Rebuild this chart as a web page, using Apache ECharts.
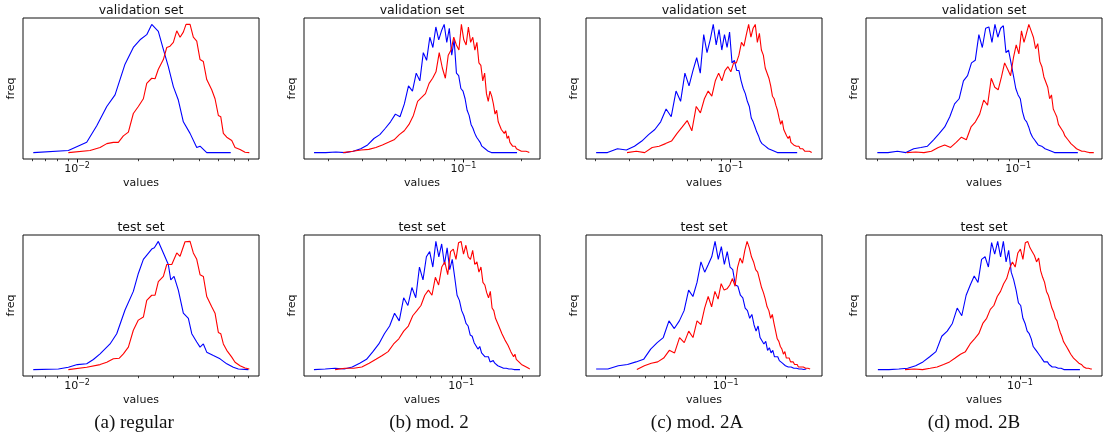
<!DOCTYPE html>
<html><head><meta charset="utf-8">
<script src="https://cdn.jsdelivr.net/npm/echarts@6/dist/echarts.min.js"></script>
<style>html,body{margin:0;padding:0;background:#fff}#c{width:1108px;height:441px}</style>
</head><body><div id="c"></div>
<script>
// ---------------- DATA ----------------
// panel (a) regular : [value, freq] pairs
const aValBlue = [[0.00608,0],[0.00906,1.6],[0.01116,8],[0.01251,21],[0.01402,36],[0.01540,45],[0.01725,69],[0.01896,82],[0.02046,88],[0.02208,92],[0.02337,100],[0.02519,94.5],[0.02667,80.5],[0.02822,67],[0.02988,51.5],[0.03162,41],[0.03347,24],[0.03613,15],[0.03898,4],[0.04047,5],[0.04367,0],[0.05737,0]];
const aValRed = [[0.00906,0],[0.01159,1.6],[0.01299,4],[0.01402,7],[0.01511,8],[0.01599,8],[0.01693,13],[0.01792,16],[0.01896,30.5],[0.02007,36],[0.02125,42],[0.02208,54],[0.02337,58],[0.02427,57.6],[0.02519,65],[0.02667,72.6],[0.02772,82],[0.02877,83],[0.02988,86],[0.03106,95],[0.03225,90],[0.03347,94],[0.03451,100],[0.03613,100],[0.0375,90],[0.03898,87],[0.04047,72.6],[0.04202,71],[0.04367,57],[0.04622,49],[0.04799,42],[0.04983,29],[0.05121,28],[0.05275,15],[0.05483,12],[0.05803,9.5],[0.06025,4],[0.06377,2.4],[0.0675,0.3],[0.07086,0]];
const aTestBlue = [[0.00608,0],[0.00809,0.5],[0.00906,1.8],[0.01003,3.9],[0.01116,4.5],[0.01204,7.9],[0.01299,12.3],[0.01455,20],[0.0157,28],[0.01725,46.5],[0.01896,61],[0.02007,75],[0.02125,86],[0.02337,94],[0.02407,95],[0.02519,100],[0.02667,91],[0.02822,82],[0.02901,70],[0.03012,72.7],[0.03162,62],[0.03347,44],[0.03544,40],[0.03684,28],[0.03898,21.5],[0.04047,17.5],[0.04202,20],[0.04367,13.6],[0.04708,11],[0.0508,8.4],[0.05483,4.5],[0.05909,1.8],[0.06255,0.5],[0.07008,0]];
const aTestRed = [[0.00906,0],[0.01116,1.8],[0.01299,3.9],[0.01402,5.7],[0.01511,8.4],[0.01617,8.9],[0.01693,12.3],[0.01792,17.5],[0.01896,30.7],[0.02007,38.6],[0.02125,41],[0.02208,54],[0.02337,58],[0.02427,58],[0.02519,68.7],[0.02667,72.7],[0.02772,82],[0.02935,82],[0.03106,91],[0.03225,88.4],[0.03412,99.7],[0.03613,100],[0.0375,91],[0.03898,86],[0.04047,74],[0.04202,72.7],[0.04367,57],[0.04622,49],[0.04799,44],[0.04983,29],[0.05121,28],[0.05275,20],[0.05483,15],[0.05803,9.7],[0.06025,5.7],[0.06377,3],[0.0675,1.3],[0.07086,0.5]];

// panels (b)-(d): histogram bin range [first centre, last centre] and bin heights
const bValBlueBins = [0.0168, 0.19];
const bValBlue = [0,0,0.5,0,1,3,6,11,14,19,24,30,28,38,52,48,62,56,78,72,90,82,98,88,95,100,86,97,76,88,62,60,50,48,42,33,29,22,19,15,12,10,8,5,4,3,2,1,0.5,0,0,0,0,0,0,0,0,0,0,0,0,0,0,0,0,0,0,0,0,0];
const bValRedBins = [0.0238, 0.22];
const bValRed = [0,1,2,2.5,4,6,8,10,14,17,22,29,40,43,46,54,58,63,78,66,58,76,80,90,84,80,100,88,84,98,86,90,80,86,70,68,56,62,46,40,48,44,38,30,33,24,23,18,19,15,17,11,13,8,9,5,4,5,3,4,2,3,1,2,1,0.5,1,0,0.5,0];
const bTestBlueBins = [0.0187, 0.195];
const bTestBlue = [0,0.5,1,0.5,2,5,8,14,20,28,34,44,38,56,50,64,56,80,70,88,92,80,100,88,98,82,95,78,86,72,58,54,46,42,36,34,27,26,21,20,16,18,13,12,10,9,10,6,6,7,5,4,3,3,2,2,1,1.5,1,0.5,0.5,0,0.5,0,0,0,0,0,0,0];
const bTestRedBins = [0.0238, 0.218];
const bTestRed = [0,1,1,2,5,8,11,14,20,24,30,34,42,46,50,58,62,58,72,66,80,84,74,92,94,86,99,100,90,97,88,86,93,82,84,76,80,68,66,60,56,61,48,46,40,41,34,33,28,28,23,22,19,18,14,15,10,12,8,9,6,6,4,5,3,2,2,1,1,0.5];

const cValBlueBins = [0.0202, 0.222];
const cValBlue = [0,0,3,2,5,9,14,18,24,34,28,48,40,62,52,64,74,62,92,78,88,100,84,96,80,92,82,94,70,72,64,64,56,50,46,40,36,27,24,20,16,13,9,7,8,5,4,3,2,2,1,1,0.5,0,0,0,0,0,0,0,0,0,0,0,0,0,0,0,0,0];
const cValRedBins = [0.0292, 0.264];
const cValRed = [0,1,0,4,5,7,9,15,20,25,17,36,31,42,48,44,56,62,56,64,67,63,70,70,76,86,83,92,100,90,97,100,86,93,80,76,66,65,58,52,44,42,37,33,27,22,25,18,17,13,11,13,8,9,6,7,5,4,5,3,2,3,2,1,2,1,0.5,1,0,0];
const cTestBlueBins = [0.0230, 0.2497];
const cTestBlue = [0.5,0.5,3,4,6,8,16,21,25,38,32,38,46,62,57,68,84,76,82,88,100,86,96,82,92,80,78,66,65,58,56,48,46,40,43,35,30,34,25,24,20,22,15,17,13,15,10,9,10,7,6,5,4,3,2,2,1,2,1,1,0.5,1,0.5,0.5,0,0.5,0.5,0,0.5,0.5];
const cTestRedBins = [0.0365, 0.261];
const cTestRed = [0,3,5,6,9,15,13,25,21,30,25,38,35,48,57,49,61,55,67,62,63,66,71,65,80,87,83,93,100,95,88,84,78,76,70,64,60,55,49,46,40,43,36,30,24,22,18,16,12,14,9,8,9,6,5,6,4,3,4,2,3,2,1,2,1,1,0.5,1,0.5,0.5];

const dValBlueBins = [0.0200, 0.198];
const dValBlue = [0,0,1,0,3,4,5,10,15,20,28,38,42,56,60,70,72,92,82,97,98,86,100,90,97,99,78,80,70,60,50,45,42,32,26,24,20,15,12,10,8,6,5,5,4,3,2,2,1,1,0.5,0,0,0,0,0,0,0,0,0,0,0,0,0,0,0,0,0,0,0];
const dValRedBins = [0.0280, 0.2376];
const dValRed = [0,0.5,0,1,4,6,4,8,12,10,20,24,30,41,37,58,51,49,59,70,65,60,74,84,77,95,86,93,100,95,90,81,85,71,67,59,58,51,42,45,34,31,28,22,21,18,16,13,12,10,9,7,6,5,5,3,3,2,2,1,2,1,1,0.5,1,0,0.5,0,0,0];
const dTestBlueBins = [0.0191, 0.2014];
const dTestBlue = [0,0,0.5,1,3,6,10,14,26,30,36,48,42,58,66,73,68,86,88,80,99,90,100,88,100,84,93,76,70,62,52,50,40,36,30,28,24,18,16,14,12,10,8,6,5,6,4,3,2,3,2,1,1,0.5,1,0.5,0,0.5,0,0,0,0,0,0,0,0,0,0,0,0];
const dTestRedBins = [0.0262, 0.2317];
const dTestRed = [0,0.5,0,1,2,4,6,9,12,14,20,24,28,36,40,47,50,57,61,67,71,79,84,80,91,94,86,99,100,95,92,89,84,87,77,72,68,61,58,53,48,45,40,38,33,29,26,22,20,18,17,14,12,11,9,8,7,6,5,4,4,3,2,2,1,1.5,1,0.5,0.5,0.5];

// tick values and labels
const minorTicksA = [0.006,0.007,0.008,0.009,0.02,0.03,0.04,0.05,0.06,0.07,0.08];
const minorTicksBCD = [0.02,0.03,0.04,0.05,0.06,0.07,0.08,0.09,0.2,0.3];
const titles = ['validation set', 'test set'];
const captions = ['(a) regular', '(b) mod. 2', '(c) mod. 2A', '(d) mod. 2B'];
const xName = 'values', yName = 'freq';

// ---------------- BUILD ----------------
function bins(range, h) {
  const n = h.length, lo = range[0], hi = range[1];
  return h.map((v, i) => [lo + i * (hi - lo) / (n - 1), v]);
}
const panels = [
  {left:23,  top:18,  min:0.00541, max:0.0791, major:0.01, exp:'−2', minor:minorTicksA,  blue:aValBlue, red:aValRed, title:titles[0]},
  {left:304, top:18,  min:0.0149,  max:0.250,  major:0.1,  exp:'−1', minor:minorTicksBCD, blue:bins(bValBlueBins,bValBlue), red:bins(bValRedBins,bValRed), title:titles[0]},
  {left:586, top:18,  min:0.0179,  max:0.2985, major:0.1,  exp:'−1', minor:minorTicksBCD, blue:bins(cValBlueBins,cValBlue), red:bins(cValRedBins,cValRed), title:titles[0]},
  {left:866, top:18,  min:0.01757, max:0.261,  major:0.1,  exp:'−1', minor:minorTicksBCD, blue:bins(dValBlueBins,dValBlue), red:bins(dValRedBins,dValRed), title:titles[0]},
  {left:23,  top:235, min:0.00541, max:0.0791, major:0.01, exp:'−2', minor:minorTicksA,  blue:aTestBlue, red:aTestRed, title:titles[1]},
  {left:304, top:235, min:0.0167,  max:0.245,  major:0.1,  exp:'−1', minor:minorTicksBCD, blue:bins(bTestBlueBins,bTestBlue), red:bins(bTestRedBins,bTestRed), title:titles[1]},
  {left:586, top:235, min:0.0205,  max:0.2986, major:0.1,  exp:'−1', minor:minorTicksBCD, blue:bins(cTestBlueBins,cTestBlue), red:bins(cTestRedBins,cTestRed), title:titles[1]},
  {left:866, top:235, min:0.01663, max:0.2606, major:0.1,  exp:'−1', minor:minorTicksBCD, blue:bins(dTestBlueBins,dTestBlue), red:bins(dTestRedBins,dTestRed), title:titles[1]}
];
const W = 236, H = 141;
const grid = [], xAxis = [], yAxis = [], series = [], graphic = [];
const txt = '#111';
panels.forEach((p, i) => {
  grid.push({left:p.left, top:p.top, width:W, height:H, show:true, borderColor:'#111', borderWidth:1, backgroundColor:'transparent'});
  const minor = p.minor.filter(v => v > p.min && v < p.max);
  xAxis.push({
    type:'log', logBase:10, gridIndex:i, position:'bottom', min:p.min, max:p.max,
    axisLine:{show:false, onZero:false}, splitLine:{show:false},
    axisTick:{show:true, customValues:[p.major], length:3.5, lineStyle:{color:'#111', width:1}},
    axisLabel:{show:true, customValues:[p.major], margin:3, color:txt,
      formatter:() => '{b|10}{s|' + p.exp + '}',
      rich:{b:{fontSize:11, fontFamily:'DejaVu Sans', color:txt}, s:{fontSize:8, fontFamily:'DejaVu Sans', color:txt, padding:[0,0,6,0]}}},
    name:xName, nameLocation:'middle', nameGap:19,
    nameTextStyle:{fontSize:11, fontFamily:'DejaVu Sans', color:txt}
  });
  xAxis.push({
    type:'log', logBase:10, gridIndex:i, position:'bottom', offset:0, min:p.min, max:p.max,
    axisLine:{show:false, onZero:false}, splitLine:{show:false}, axisLabel:{show:false},
    axisTick:{show:true, customValues:minor, length:2.2, lineStyle:{color:'#111', width:0.8}}
  });
  yAxis.push({
    type:'value', gridIndex:i, min:-5, max:105,
    axisLine:{show:false, onZero:false}, axisTick:{show:false}, axisLabel:{show:false}, splitLine:{show:false},
    name:yName, nameLocation:'middle', nameGap:6,
    nameTextStyle:{fontSize:11, fontFamily:'DejaVu Sans', color:txt}
  });
  [['blue', '#0000ff'], ['red', '#ff0000']].forEach(([k, col]) => {
    series.push({type:'line', xAxisIndex:2*i, yAxisIndex:i, data:p[k], showSymbol:false, symbol:'none',
      lineStyle:{color:col, width:1.1}, itemStyle:{color:col}, clip:true, silent:true});
  });
  graphic.push({type:'text', x:p.left + W/2, y:p.top - 7.5,
    style:{text:p.title, fontSize:12.5, fontFamily:'DejaVu Sans', fill:txt, align:'center', verticalAlign:'middle'}});
});
[134, 429, 697, 974].forEach((cx, i) => {
  graphic.push({type:'text', x:cx, y:423,
    style:{text:captions[i], fontSize:19, fontFamily:'Liberation Serif', fill:'#111', align:'center', verticalAlign:'middle'}});
});

const chart = echarts.init(document.getElementById('c'), null, {renderer:'canvas'});
chart.setOption({animation:false, backgroundColor:'#fff', grid, xAxis, yAxis, series, graphic});
</script>
</body></html>
